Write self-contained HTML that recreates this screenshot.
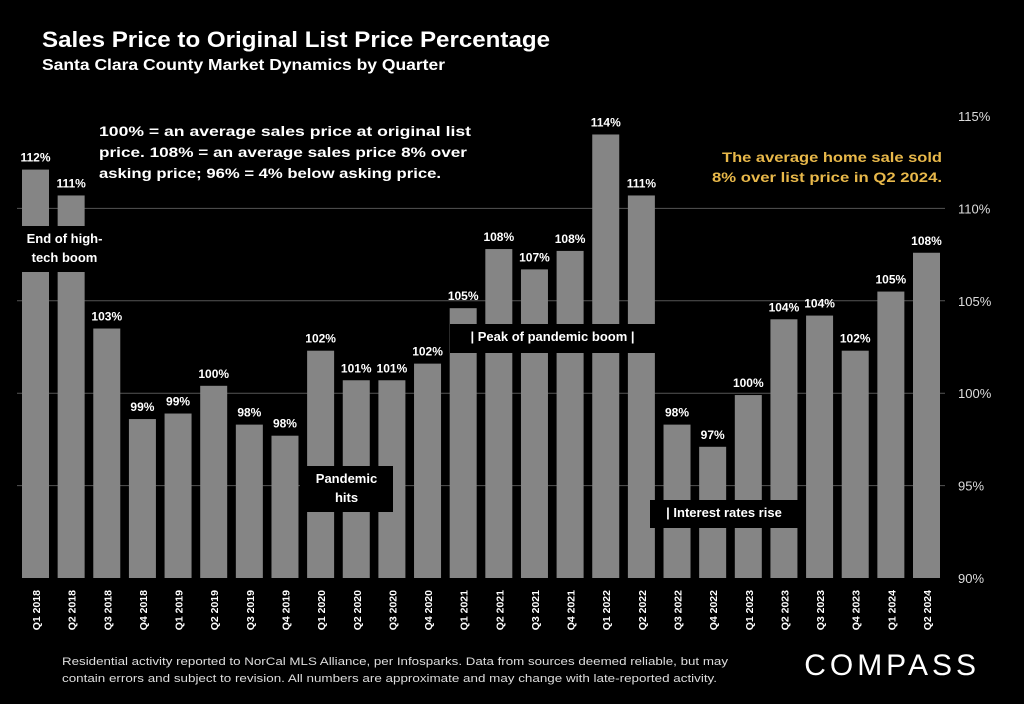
<!DOCTYPE html>
<html><head><meta charset="utf-8"><style>
body{margin:0;background:#000;width:1024px;height:704px;overflow:hidden;font-family:"Liberation Sans",sans-serif;}
</style></head><body>
<svg id="c" width="1024" height="704" style="position:absolute;left:0;top:0">
<text x="42" y="47" fill="#fff" font-size="22" font-weight="bold" textLength="508" lengthAdjust="spacingAndGlyphs">Sales Price to Original List Price Percentage</text>
<text x="42" y="70" fill="#fff" font-size="16" font-weight="bold" textLength="403" lengthAdjust="spacingAndGlyphs">Santa Clara County Market Dynamics by Quarter</text>
<g id="grid"></g><g id="bars"></g><g id="notes"></g>
</svg>
<script>
const categories=["Q1 2018","Q2 2018","Q3 2018","Q4 2018","Q1 2019","Q2 2019","Q3 2019","Q4 2019","Q1 2020","Q2 2020","Q3 2020","Q4 2020","Q1 2021","Q2 2021","Q3 2021","Q4 2021","Q1 2022","Q2 2022","Q3 2022","Q4 2022","Q1 2023","Q2 2023","Q3 2023","Q4 2023","Q1 2024","Q2 2024"];
const values=[112.1,110.7,103.5,98.6,98.9,100.4,98.3,97.7,102.3,100.7,100.7,101.6,104.6,107.8,106.7,107.7,114.0,110.7,98.3,97.1,99.9,104.0,104.2,102.3,105.5,107.6];
const valueLabels=["112%","111%","103%","99%","99%","100%","98%","98%","102%","101%","101%","102%","105%","108%","107%","108%","114%","111%","98%","97%","100%","104%","104%","102%","105%","108%"];
const ticks=[90,95,100,105,110,115];
const tickLabels=["90%","95%","100%","105%","110%","115%"];
const NS="http://www.w3.org/2000/svg";
function y(v){return 578-(v-90)*18.48;}
function x(i){return 22+i*35.64;}
function mk(tag,attrs,parent,text){const e=document.createElementNS(NS,tag);for(const k in attrs)e.setAttribute(k,attrs[k]);if(text!==undefined)e.textContent=text;parent.appendChild(e);return e;}
const grid=document.getElementById('grid'),bars=document.getElementById('bars'),notes=document.getElementById('notes');
ticks.forEach((t,i)=>{
 if(t>90&&t<115){const l=mk('line',{x1:17,x2:945,y1:y(t),y2:y(t),stroke:'#555','stroke-width':1},grid);
 
 }
 const tx=mk('text',{x:958,y:y(t)+5,fill:'#ddd','font-size':13},grid,tickLabels[i]);
 
 
});
values.forEach((v,i)=>{
 const r=mk('rect',{x:x(i),y:y(v),width:27,height:578-y(v),fill:'#858585'},bars);
 
 
 const lb=mk('text',{x:x(i)+13.5,y:y(v)-8,fill:'#fff','font-size':12,'font-weight':'bold','text-anchor':'middle'},bars,valueLabels[i]);
 
 
 const cx=x(i)+18,cy=590;
 const xl=mk('text',{x:cx,y:cy,fill:'#fff','font-size':10.5,'font-weight':'bold','text-anchor':'end',transform:`rotate(-90 ${cx} ${cy})`},bars,categories[i]);
 
 
});
function box(x0,y0,w,h,lines,name,fs){
 const g=mk('g',{},notes);
 
 
 mk('rect',{x:x0,y:y0,width:w,height:h,fill:'#000'},g);
 lines.forEach((t,k)=>mk('text',{x:x0+w/2,y:y0+17+k*19,fill:'#fff','font-size':fs,'font-weight':'bold','text-anchor':'middle'},g,t));
}
box(17,226,95,46,["End of high-","tech boom"],'note-high-tech-boom',13);
box(300,466,93,46,["Pandemic","hits"],'note-pandemic-hits',13);
box(450,324,205,29,["| Peak of pandemic boom |"],'note-peak-pandemic',13);
box(650,500,148,28,["| Interest rates rise"],'note-interest-rates',13);
const info=["100% = an average sales price at original list","price. 108% = an average sales price 8% over","asking price; 96% = 4% below asking price."];
const infoLen=[372,368,342];
info.forEach((t,k)=>{const e=mk('text',{x:99,y:136+k*21,fill:'#fff','font-size':14,'font-weight':'bold',textLength:infoLen[k],lengthAdjust:'spacingAndGlyphs'},notes,t);
 
 });
const hlLen=[220,230];
["The average home sale sold","8% over list price in Q2 2024."].forEach((t,k)=>{const e=mk('text',{x:942,y:162+k*20,fill:'#e8b84a','font-size':14,'font-weight':'bold','text-anchor':'end',textLength:hlLen[k],lengthAdjust:'spacingAndGlyphs'},notes,t);
 
 });
const fnLen=[666,655];
["Residential activity reported to NorCal MLS Alliance, per Infosparks. Data from sources deemed reliable, but may","contain errors and subject to revision. All numbers are approximate and may change with late-reported activity."].forEach((t,k)=>{const e=mk('text',{x:62,y:665+k*17,fill:'#ddd','font-size':11,textLength:fnLen[k],lengthAdjust:'spacingAndGlyphs'},notes,t);
 
 });
const logo=mk('text',{x:980,y:675,fill:'#fff','font-size':30,'letter-spacing':4,'text-anchor':'end'},notes,'COMPASS');


</script>
</body></html>
